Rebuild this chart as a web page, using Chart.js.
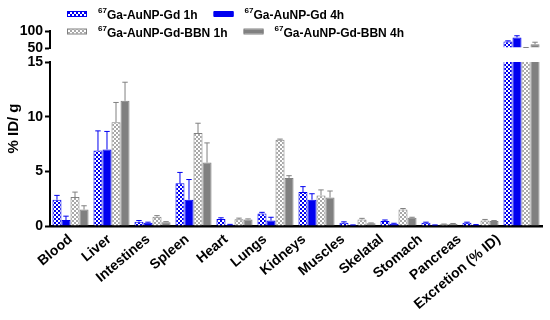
<!DOCTYPE html>
<html><head><meta charset="utf-8">
<script src="https://cdn.jsdelivr.net/npm/chart.js@4"></script>
<style>html,body{margin:0;padding:0;background:#fff}</style>
</head><body>
<canvas id="c" width="550" height="320"></canvas>
<script>
const categories = ['Blood','Liver','Intestines','Spleen','Heart','Lungs','Kidneys','Muscles','Skelatal','Stomach','Pancreas','Excretion (% ID)'];
const seriesLabels = ['Ga-AuNP-Gd 1h','Ga-AuNP-Gd 4h','Ga-AuNP-Gd-BBN 1h','Ga-AuNP-Gd-BBN 4h'];
const isotope = '67';
const gd1h     = [2.4, 6.9, 0.4, 3.9, 0.65, 1.15, 3.1, 0.3, 0.45, 0.3, 0.3, 69];
const gd1hErr  = [0.4, 1.8, 0.1, 1.0, 0.1, 0.1, 0.5, 0.08, 0.1, 0.05, 0.05, 2];
const gd4h     = [0.55, 7.0, 0.3, 2.4, 0.12, 0.5, 2.4, 0.08, 0.2, 0.08, 0.1, 81];
const gd4hErr  = [0.35, 1.65, 0.05, 1.85, 0.03, 0.3, 0.55, 0.02, 0.05, 0.02, 0.03, 5];
const bbn1h    = [2.65, 9.5, 0.85, 8.5, 0.62, 7.9, 2.8, 0.6, 1.5, 0.15, 0.5, 51];
const bbn1hErr = [0.45, 1.8, 0.1, 0.9, 0.1, 0.05, 0.5, 0.1, 0.1, 0.03, 0.1, 0.5];
const bbn4h    = [1.5, 11.45, 0.35, 5.8, 0.6, 4.4, 2.6, 0.25, 0.75, 0.2, 0.45, 61];
const bbn4hErr = [0.35, 1.7, 0.05, 1.8, 0.05, 0.2, 0.6, 0.03, 0.05, 0.03, 0.05, 6];
const lowerTicks = [0, 5, 10, 15];
const upperTicks = [50, 100];
const yTitle = '% ID/ g';

const FONT = "'Liberation Sans', Arial, sans-serif";
const BLUE = '#0000f0', GRAY = '#808080', LGRAY = '#a8a8a8';
const canvas = document.getElementById('c');
const ctx0 = canvas.getContext('2d');
function checker(color){
  const c = document.createElement('canvas'); c.width = 4; c.height = 4;
  const g = c.getContext('2d');
  g.fillStyle = '#fff'; g.fillRect(0,0,4,4);
  g.fillStyle = color; g.fillRect(0,0,2,2); g.fillRect(2,2,2,2);
  return ctx0.createPattern(c, 'repeat');
}
const styles = [
  {bg: checker(BLUE), border: BLUE},
  {bg: BLUE, border: BLUE},
  {bg: checker(LGRAY), border: GRAY},
  {bg: GRAY, border: GRAY}
];
const seriesValues = [gd1h, gd4h, bbn1h, bbn4h];
const seriesErrs = [gd1hErr, gd4hErr, bbn1hErr, bbn4hErr];
const upperMin = upperTicks[0], upperMax = upperTicks[upperTicks.length-1];
const lowerMin = lowerTicks[0], lowerMax = lowerTicks[lowerTicks.length-1];

const datasets = [];
seriesValues.forEach((vals, i) => {
  datasets.push({label: seriesLabels[i], data: vals, errors: seriesErrs[i], yAxisID: 'y',
    stack: 's'+i, backgroundColor: styles[i].bg, borderColor: styles[i].border, borderWidth: 1, clip: 0});
});
seriesValues.forEach((vals, i) => {
  datasets.push({label: seriesLabels[i], data: vals.map(v => v >= upperMin ? v : null), errors: seriesErrs[i], yAxisID: 'yTop',
    base: upperMin, stack: 's'+i, backgroundColor: styles[i].bg, borderColor: styles[i].border, borderWidth: 1, clip: 0});
});

const errorBars = {
  id: 'errorBars',
  afterDatasetsDraw(chart){
    const ctx = chart.ctx, ca = chart.chartArea;
    chart.data.datasets.forEach((ds, i) => {
      const meta = chart.getDatasetMeta(i);
      const ys = meta.yScale;
      ctx.save();
      ctx.beginPath(); ctx.rect(ca.left - 5, ys.top - 1, ca.right - ca.left + 10, ys.bottom - ys.top + 1); ctx.clip();
      ctx.strokeStyle = ds.borderColor; ctx.lineWidth = 1;
      meta.data.forEach((bar, j) => {
        const v = ds.data[j]; if (v == null) return;
        const yt = ys.getPixelForValue(v + ds.errors[j]);
        const cap = bar.width * 0.3;
        ctx.beginPath();
        ctx.moveTo(bar.x, bar.y); ctx.lineTo(bar.x, yt);
        ctx.moveTo(bar.x - cap, yt); ctx.lineTo(bar.x + cap, yt);
        ctx.stroke();
      });
      ctx.restore();
    });
  }
};

const customLegend = {
  id: 'customLegend',
  afterDraw(chart){
    const ctx = chart.ctx;
    ctx.save();
    const rows = [[0,1],[2,3]];
    const rowY = [14, 31.5];
    rows.forEach((row, r) => {
      let x = 67;
      row.forEach(i => {
        const ds = chart.data.datasets[i];
        const cy = rowY[r];
        ctx.fillStyle = ds.backgroundColor; ctx.fillRect(x, cy - 2, 20, 4);
        ctx.strokeStyle = ds.borderColor; ctx.lineWidth = 1; ctx.strokeRect(x + 0.5, cy - 2.5, 19, 5);
        let tx = x + 31;
        ctx.fillStyle = '#000'; ctx.textBaseline = 'alphabetic'; ctx.textAlign = 'left';
        ctx.font = 'bold 8px ' + FONT; ctx.fillText(isotope, tx, cy - 1);
        tx += ctx.measureText(isotope).width;
        ctx.font = 'bold 12px ' + FONT; ctx.fillText(ds.label, tx, cy + 5);
        tx += ctx.measureText(ds.label).width;
        x = tx + 16;
      });
    });
    const ca = chart.chartArea;
    ctx.translate(14, (ca.top + ca.bottom) / 2);
    ctx.rotate(-Math.PI / 2);
    ctx.font = 'bold 15px ' + FONT; ctx.textAlign = 'center'; ctx.textBaseline = 'middle';
    ctx.fillText(yTitle, 0, 0);
    ctx.restore();
  }
};

const tickFont = {family: FONT, size: 14, weight: 'bold'};
const yCommon = {
  type: 'linear', position: 'left', stack: 'v', stacked: false,
  grid: {display: true, drawOnChartArea: false, drawTicks: true, tickLength: 5, tickWidth: 2, tickColor: '#000'},
  border: {display: true, color: '#000', width: 2},
  ticks: {padding: 2, color: '#000', font: tickFont, autoSkip: false},
  afterFit(s){ s.width = 50; }
};

new Chart(canvas, {
  type: 'bar',
  data: {labels: categories, datasets},
  options: {
    responsive: false, animation: false,
    layout: {padding: {left: 0, top: 31, right: 8, bottom: 0}},
    datasets: {bar: {categoryPercentage: 0.88, barPercentage: 1}},
    plugins: {legend: {display: false}, tooltip: {enabled: false}},
    scales: {
      x: {type: 'category', offset: true,
        grid: {display: false, drawTicks: false},
        border: {display: false},
        ticks: {display: false},
        afterFit(s){ s.height = 0; }
      },
      xLab: {type: 'linear', position: 'bottom', offset: false, beginAtZero: false, bounds: 'data',
        min: -0.527, max: 12.118,
        grid: {display: false, drawTicks: false, offset: false},
        border: {display: true, color: '#000', width: 2.5},
        afterBuildTicks(s){ s.ticks = categories.map((c, i) => ({value: i})); },
        ticks: {autoSkip: false, maxRotation: 40, minRotation: 40, padding: 5, color: '#000',
          font: {family: FONT, size: 14, weight: 'bold'},
          callback: (v) => categories[v]},
        afterFit(s){ s.height = 94; }
      },
      y: Object.assign({}, yCommon, {stackWeight: 164, min: lowerMin, max: lowerMax,
        afterBuildTicks(s){ s.ticks = lowerTicks.map(v => ({value: v})); }}),
      yGap: {type: 'linear', position: 'left', stack: 'v', stackWeight: 14, min: 0, max: 1,
        grid: {display: false, drawTicks: false}, border: {display: false}, ticks: {display: false},
        afterFit(s){ s.width = 50; }},
      yTop: Object.assign({}, yCommon, {stackWeight: 17, min: upperMin, max: upperMax,
        afterBuildTicks(s){ s.ticks = upperTicks.map(v => ({value: v})); }})
    }
  },
  plugins: [errorBars, customLegend]
});
</script>
</body></html>
